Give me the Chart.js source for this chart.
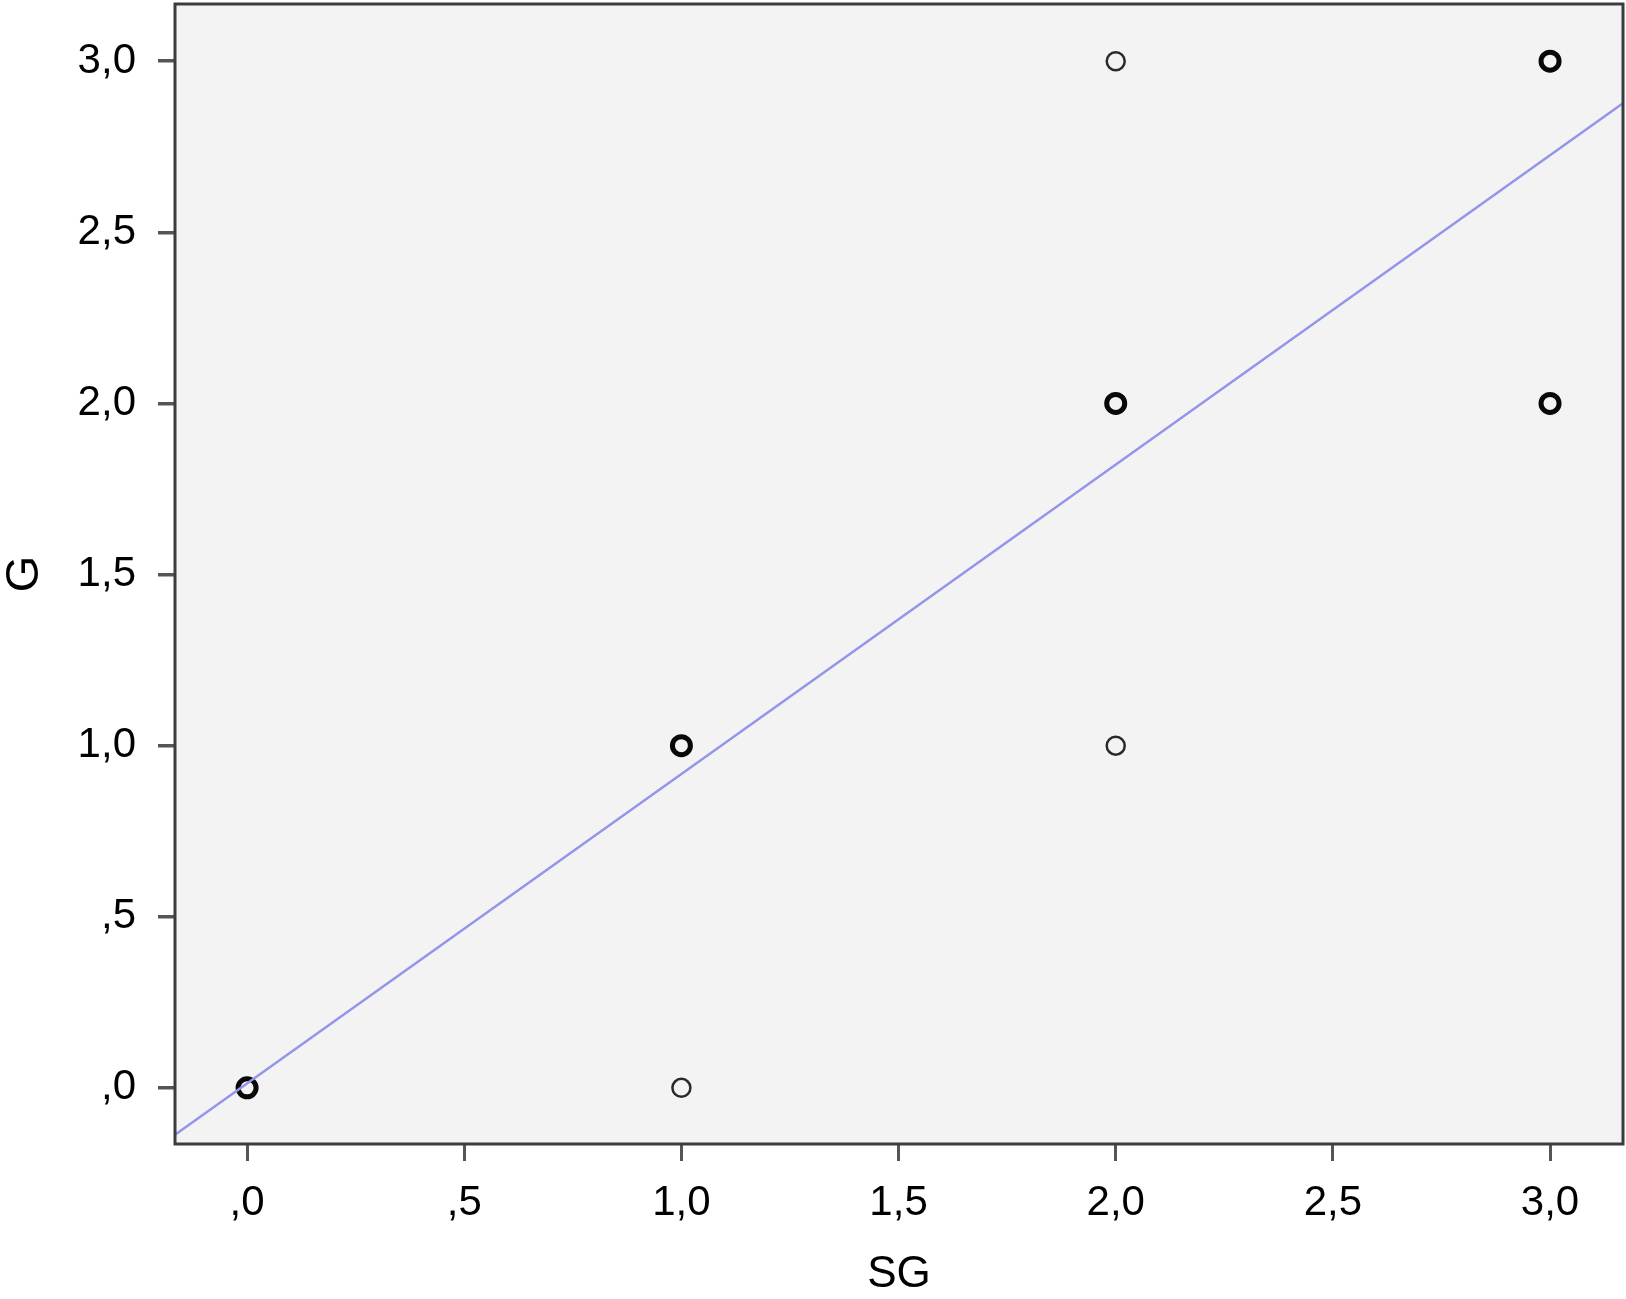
<!DOCTYPE html>
<html>
<head>
<meta charset="utf-8">
<script src="https://cdn.jsdelivr.net/npm/chart.js@4/dist/chart.umd.min.js"></script>
<style>
  body { margin: 0; background: #fff; }
  #wrap { width: 1626px; height: 1299px; }
</style>
</head>
<body>
<div id="wrap"><canvas id="chart" width="1626" height="1299"></canvas></div>
<script>
// --- data ---
const tickValues = [0, 0.5, 1, 1.5, 2, 2.5, 3];
// several cases on the same spot (drawn bold)
const sgMany = [0, 1, 2, 3, 3];
const gMany  = [0, 1, 2, 2, 3];
// single cases (drawn thin)
const sgOne = [1, 2, 2];
const gOne  = [0, 1, 3];
// fit line, read at the plot edges
const fitX = [-0.166, 3.168];
const fitY = [-0.137, 2.877];

const FONT = "'Liberation Sans', Arial, Helvetica, sans-serif";
const FSIZE = 42;

function spssLabel(v) {
    let s = v.toFixed(1).replace('.', ',');
    if (s.startsWith('0,')) s = s.slice(1);
    return s;
}

function pairs(xs, ys) {
    return xs.map((x, i) => ({ x: x, y: ys[i] }));
}

// plot background + frame
const frame = {
    id: 'frame',
    beforeDraw(chart) {
        const { ctx, chartArea: a } = chart;
        ctx.save();
        ctx.fillStyle = '#f3f3f3';
        ctx.fillRect(a.left, a.top, a.right - a.left, a.bottom - a.top);
        ctx.restore();
    },
    afterDraw(chart) {
        const { ctx, chartArea: a } = chart;
        ctx.save();
        ctx.strokeStyle = '#3c3c3c';
        ctx.lineWidth = 3;
        ctx.strokeRect(a.left, a.top, a.right - a.left, a.bottom - a.top);
        ctx.restore();
    }
};

new Chart(document.getElementById('chart'), {
    type: 'scatter',
    data: {
        datasets: [
            {
                type: 'line',
                data: pairs(fitX, fitY),
                borderColor: '#9494ea',
                borderWidth: 2.5,
                pointRadius: 0,
                fill: false
            },
            {
                data: pairs(sgOne, gOne),
                pointRadius: 9,
                pointBorderWidth: 2.5,
                pointBorderColor: '#2a2a2a',
                pointBackgroundColor: 'rgba(0,0,0,0)'
            },
            {
                data: pairs(sgMany, gMany),
                pointRadius: 9,
                pointBorderWidth: 5,
                pointBorderColor: '#080808',
                pointBackgroundColor: 'rgba(0,0,0,0)'
            }
        ]
    },
    options: {
        responsive: false,
        animation: false,
        layout: { autoPadding: false, padding: { top: 4, right: 3, bottom: 0, left: 0 } },
        plugins: { legend: { display: false }, tooltip: { enabled: false } },
        scales: {
            x: {
                type: 'linear',
                min: fitX[0],
                max: fitX[1],
                afterBuildTicks: s => { s.ticks = tickValues.map(v => ({ value: v })); },
                afterFit: s => { s.height = 155; s.paddingLeft = 0; s.paddingRight = 0; },
                border: { display: false },
                grid: { drawOnChartArea: false, drawTicks: true, tickLength: 17, tickColor: '#555', lineWidth: 3 },
                ticks: { callback: v => spssLabel(v), color: '#000', font: { family: FONT, size: FSIZE }, padding: 17, maxRotation: 0 },
                title: { display: true, text: 'SG', color: '#000', font: { family: FONT, size: 44, lineHeight: 1 }, padding: { top: 0, bottom: 2 } }
            },
            y: {
                type: 'linear',
                min: -0.164,
                max: 3.167,
                afterBuildTicks: s => { s.ticks = tickValues.map(v => ({ value: v })); },
                afterFit: s => { s.width = 175; s.paddingTop = 0; s.paddingBottom = 0; },
                border: { display: false },
                grid: { drawOnChartArea: false, drawTicks: true, tickLength: 17, tickColor: '#555', lineWidth: 3.5 },
                ticks: { callback: v => spssLabel(v), color: '#000', font: { family: FONT, size: FSIZE }, padding: 22 },
                title: { display: true, text: 'G', color: '#000', font: { family: FONT, size: 47, lineHeight: 1 }, padding: { top: 2, bottom: 0 } }
            }
        }
    },
    plugins: [frame]
});
</script>
</body>
</html>
